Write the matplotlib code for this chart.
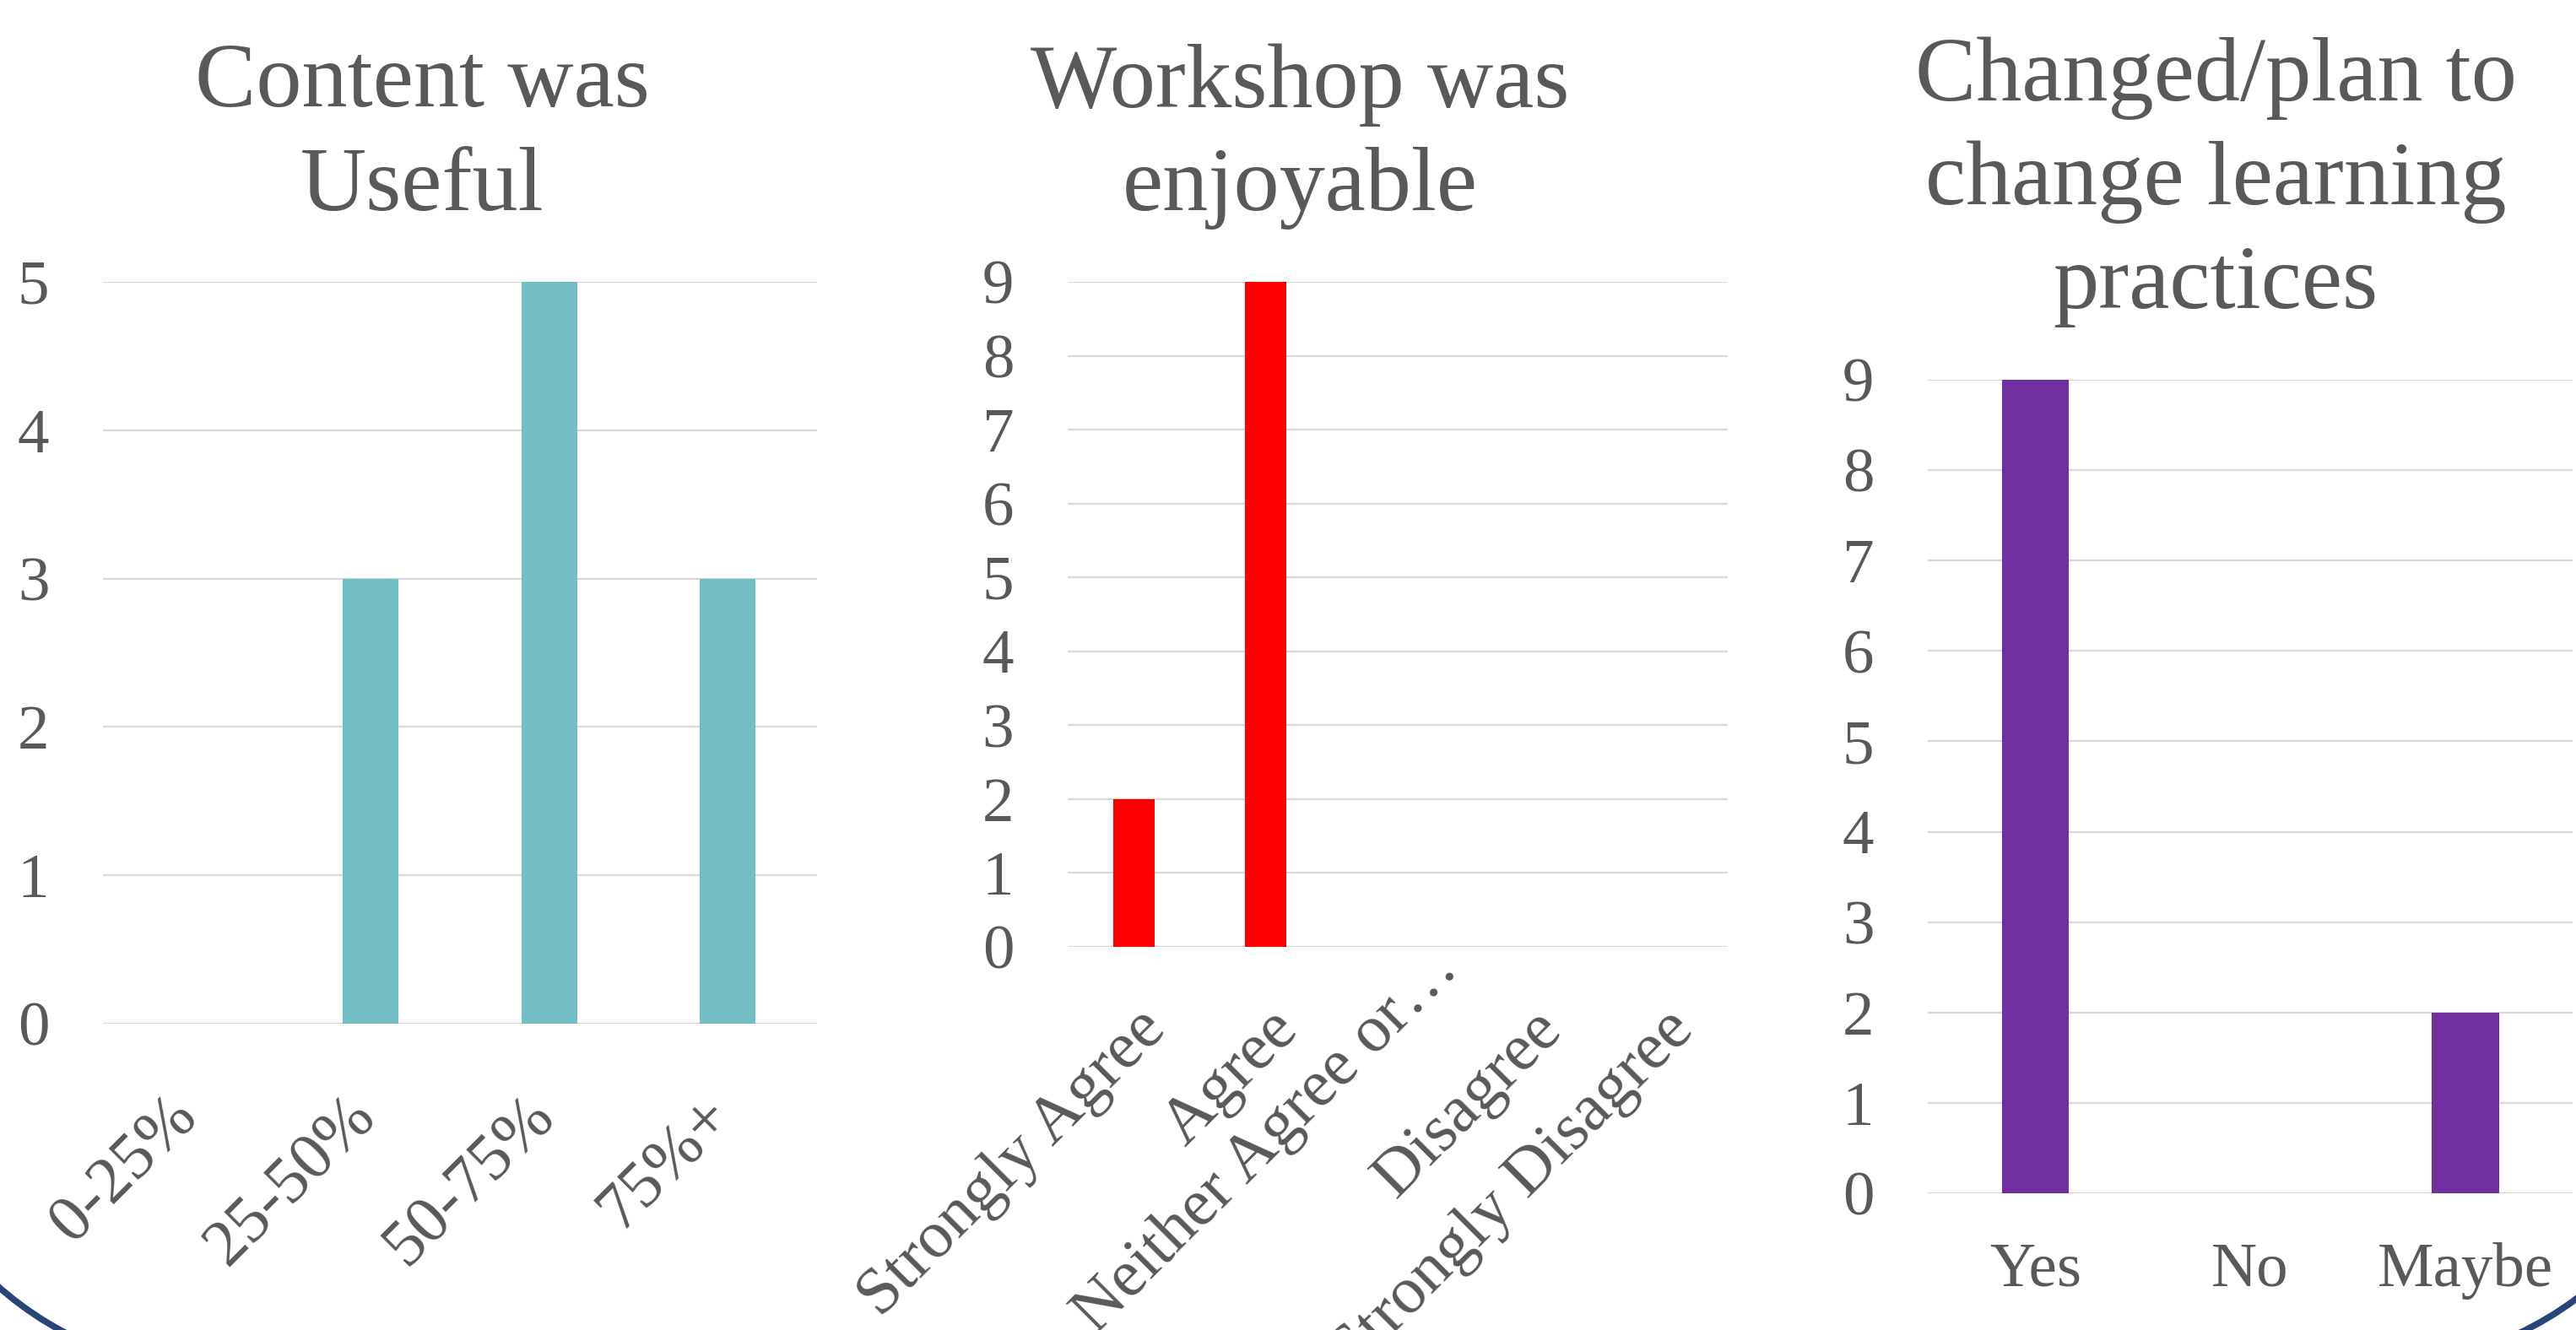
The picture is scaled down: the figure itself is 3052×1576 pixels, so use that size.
import matplotlib.pyplot as plt
from matplotlib.patches import Circle
from matplotlib.transforms import Bbox, ScaledTranslation, TransformedBbox

plt.rcParams['font.family'] = ['Liberation Serif', 'DejaVu Serif']

TEXT = '#595959'
GRID = '#D9D9D9'
FRAME = '#28457A'

useful_cats = ['0-25%', '25-50%', '50-75%', '75%+']
useful_vals = [0, 3, 5, 3]

enjoy_cats = ['Strongly Agree', 'Agree', 'Neither Agree or…', 'Disagree', 'Strongly Disagree']
enjoy_vals = [2, 9, 0, 0, 0]

change_cats = ['Yes', 'No', 'Maybe']
change_vals = [9, 0, 2]

fig = plt.figure(figsize=(30.52, 15.76), dpi=100)


def bar_panel(rect, cats, vals, color, ymax, title, title_xy, rotate=None):
    ax = fig.add_axes(rect)
    x = range(len(cats))
    ax.bar(x, vals, width=0.313, color=color, zorder=3)
    ax.set_xlim(-0.5, len(cats) - 0.5)
    ax.set_ylim(0, ymax)
    ax.set_yticks(range(ymax + 1))
    ax.grid(axis='y', color=GRID, linewidth=1.6, zorder=0)
    ax.set_axisbelow(True)
    for s in ax.spines.values():
        s.set_visible(False)
    ax.tick_params(axis='y', length=0, pad=46, labelsize=54, labelcolor=TEXT)
    ax.set_xticks(list(x))
    if rotate:
        # rotate = (pad in points, sideways nudge in inches)
        pad, dx = rotate
        ax.set_xticklabels(cats, rotation=45, ha='right', va='center',
                           rotation_mode='anchor')
        ax.tick_params(axis='x', length=0, pad=pad, labelsize=57, labelcolor=TEXT)
        for lab in ax.get_xticklabels():
            # clipped labels sit further along their slant
            if lab.get_text().endswith('…'):
                shift = ScaledTranslation(dx + 0.33, 0.72, fig.dpi_scale_trans)
            else:
                shift = ScaledTranslation(dx, 0, fig.dpi_scale_trans)
            lab.set_transform(lab.get_transform() + shift)
    else:
        ax.set_xticklabels(cats)
        ax.tick_params(axis='x', length=0, pad=42, labelsize=54, labelcolor=TEXT)
    fig.text(title_xy[0], title_xy[1], title, ha='center', va='top',
             fontsize=78, color=TEXT, linespacing=1.33, multialignment='center')
    return ax


bar_panel([0.0400, 0.2303, 0.2772, 0.5578], useful_cats, useful_vals, '#73BEC4', 5,
          'Content was\nUseful', (0.1638, 0.9676), rotate=(70.5, -0.065))
bar_panel([0.4145, 0.2881, 0.2562, 0.5000], enjoy_cats, enjoy_vals, '#FF0000', 9,
          'Workshop was\nenjoyable', (0.5046, 0.9676), rotate=(62.5, 0.27))
bar_panel([0.7484, 0.1028, 0.2503, 0.6117], change_cats, change_vals, '#7030A0', 9,
          'Changed/plan to\nchange learning\npractices', (0.8601, 0.9727))

# rounded lower corners of the slide frame (inches), each clipped to its quadrant
for cx, cy, clip in [(2.63, 3.51, [[-1, -1], [2.63, 3.51]]),
                     (28.13, 3.575, [[28.13, -1], [31.52, 3.575]])]:
    corner = Circle((cx, cy), 4.0, transform=fig.dpi_scale_trans, fill=False,
                    edgecolor=FRAME, linewidth=5.5)
    fig.add_artist(corner)
    corner.set_clip_box(TransformedBbox(Bbox(clip), fig.dpi_scale_trans))

fig.savefig('out.png', dpi=100, facecolor='white')
